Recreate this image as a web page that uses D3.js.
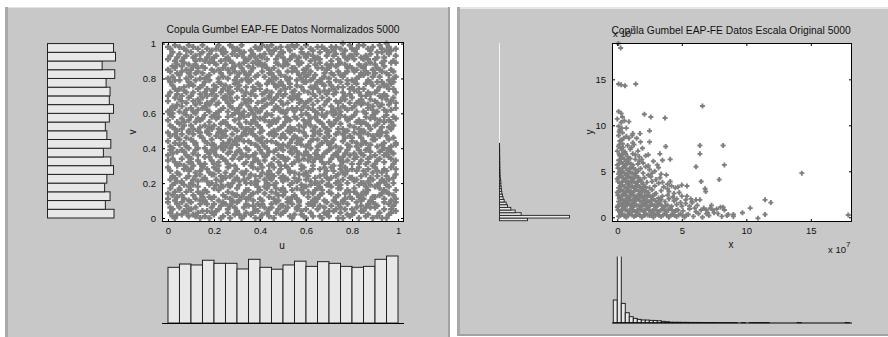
<!DOCTYPE html>
<html><head><meta charset="utf-8">
<script src="https://cdn.jsdelivr.net/npm/d3@7"></script>
<style>
body{margin:0;background:#fff}
svg{display:block}
text{font-family:"Liberation Sans",Arial,Helvetica,sans-serif;fill:#111}
</style>
</head><body>
<svg id="c" width="888" height="337"></svg>
<script>
// ---------------- DATA ----------------
const normTitle = "Copula Gumbel EAP-FE Datos Normalizados 5000";
const origTitle = "Copula Gumbel EAP-FE Datos Escala Original 5000";
const normTicks = [0, 0.2, 0.4, 0.6, 0.8, 1];
const origTicks = [0, 5, 10, 15];
const normXLabel = "u", normYLabel = "v";
const origXLabel = "x", origYLabel = "y";
const expBase = "x 10", expPow = "7";

// marginal histogram of u (20 bins of 0.05), counts
const uHistCounts = [236,250,246,266,253,253,229,270,236,228,246,262,240,260,253,240,236,240,270,284];
// marginal histogram of v (20 bins of 0.05, from v=0 upward), counts
const vHistCounts = [269,234,253,231,240,267,256,226,256,240,234,250,267,250,253,237,272,221,275,267];
const normBinWidth = 0.05;

// histogram of x (original scale, units of 1e7)
const xBinStart = -0.31, xBinWidth = 0.31;
const xHistCounts = [275,3950,234,121,73,52,40,33,32,28,27,24,16,12,6,5,5,4,4,3,3,3,2,2,2,2,1,1,1,1,1,0,1,0,1,1,1,1,1,0,0,0,0,0,0,0,1,0,0,0,0,0,0,0,0,0,0,0,1,0];
// histogram of y (original scale, units of 1e7)
const yBinStart = -0.37, yBinWidth = 0.29;
const yHistCounts = [336,840,260,188,136,96,80,56,44,36,28,24,20,16,16,12,8,6,6,5,4,4,3,3,2,2,2,1,1];

// normalized sample (u, v) in hundredths
const normPoints = [
[1,3],[8,7],[12,1],[16,9],[21,4],[27,0],[33,6],[36,2],[41,8],[48,5],[50,3],[57,9],[63,1],[66,7],[72,4],[78,8],[80,2],[86,6],[93,0],[97,5],
[4,8],[6,2],[10,5],[18,0],[23,7],[26,3],[30,9],[39,4],[44,1],[45,6],[54,8],[55,2],[60,5],[69,9],[70,1],[75,3],[84,7],[89,0],[90,6],[99,4],
[2,5],[9,1],[14,8],[15,4],[20,2],[29,6],[32,0],[37,7],[43,3],[47,9],[52,6],[59,1],[61,8],[68,3],[73,5],[76,0],[82,9],[85,4],[91,7],[96,2],
[0,9],[7,4],[11,2],[19,6],[24,1],[25,8],[34,3],[38,5],[40,0],[49,7],[51,4],[58,2],[64,9],[65,5],[74,8],[79,1],[81,3],[88,6],[94,9],[95,0],
[3,0],[5,6],[13,3],[17,8],[22,5],[28,9],[31,2],[35,7],[42,6],[46,0],[53,1],[56,6],[62,3],[67,0],[71,7],[77,5],[83,0],[87,8],[92,3],[98,7],
[1,6],[8,3],[10,9],[16,1],[20,8],[26,5],[30,4],[38,0],[41,2],[45,8],[50,7],[58,4],[60,0],[69,2],[73,9],[75,6],[84,4],[86,1],[94,5],[96,8],
[4,2],[6,9],[12,6],[19,3],[23,0],[27,7],[33,1],[39,8],[44,5],[47,3],[54,0],[56,5],[63,7],[66,1],[70,4],[78,2],[82,6],[89,9],[91,1],[99,9],
[2,1],[9,5],[14,0],[17,4],[24,9],[29,2],[34,8],[37,3],[40,7],[49,2],[52,9],[57,7],[62,8],[68,6],[74,0],[76,9],[80,5],[87,2],[90,8],[97,3],
[0,14],[7,11],[13,18],[15,12],[22,16],[28,10],[31,19],[36,13],[43,17],[46,11],[51,15],[59,18],[61,12],[67,16],[72,10],[77,14],[83,19],[85,11],[92,17],[98,13],
[3,10],[5,17],[11,13],[18,19],[20,12],[26,15],[34,11],[39,18],[42,14],[48,10],[53,19],[55,13],[64,16],[65,11],[71,18],[79,12],[81,15],[88,10],[93,14],[95,19],
[2,19],[8,15],[14,10],[16,16],[24,13],[27,18],[32,12],[35,16],[40,11],[47,14],[50,17],[57,10],[63,14],[69,19],[74,13],[75,17],[80,11],[86,18],[90,12],[99,16],
[4,12],[9,18],[10,16],[19,11],[21,19],[29,13],[30,17],[37,10],[44,19],[45,15],[54,12],[58,16],[60,18],[66,13],[70,15],[76,10],[84,13],[87,16],[94,11],[96,18],
[1,17],[6,13],[12,11],[17,15],[23,18],[25,12],[33,14],[38,19],[41,10],[49,16],[52,11],[56,17],[62,19],[68,10],[73,12],[78,16],[82,14],[89,12],[91,19],[97,10],
[3,15],[9,10],[11,19],[15,14],[20,17],[28,14],[31,10],[39,15],[40,16],[46,19],[50,13],[59,14],[64,11],[66,18],[71,14],[75,19],[81,17],[85,15],[94,16],[99,11],
[0,11],[5,16],[14,14],[18,12],[22,10],[26,19],[30,13],[35,11],[44,12],[47,17],[54,16],[56,11],[61,15],[65,17],[74,17],[77,11],[84,10],[88,19],[92,13],[95,15],
[2,13],[7,19],[13,15],[16,10],[24,18],[27,11],[34,16],[37,14],[42,18],[48,13],[53,10],[58,19],[63,10],[67,14],[70,19],[79,15],[83,12],[86,14],[90,18],[96,14],
[1,22],[9,27],[10,20],[19,25],[21,28],[25,23],[32,26],[38,21],[41,29],[46,24],[53,27],[57,22],[60,26],[68,29],[73,20],[77,25],[80,28],[87,21],[93,26],[98,23],
[4,26],[6,20],[12,24],[15,29],[23,21],[29,27],[33,22],[36,25],[43,20],[49,28],[51,23],[55,26],[62,21],[66,24],[71,29],[76,22],[82,27],[85,20],[91,24],[97,29],
[0,29],[8,23],[14,27],[17,21],[20,25],[26,29],[34,20],[39,28],[40,24],[45,22],[52,29],[59,25],[64,23],[69,27],[70,22],[78,20],[84,24],[89,26],[94,21],[95,27],
[3,20],[5,25],[11,22],[18,26],[24,23],[28,20],[30,28],[35,23],[44,27],[47,20],[50,24],[56,21],[63,28],[65,20],[74,25],[75,28],[81,21],[88,23],[90,29],[99,25],
[2,24],[7,28],[13,21],[16,23],[22,27],[27,24],[31,21],[37,29],[42,22],[48,26],[54,20],[58,28],[61,24],[67,21],[72,27],[79,23],[83,29],[86,25],[92,20],[96,22],
[4,21],[9,24],[10,28],[19,20],[20,29],[25,26],[33,25],[38,24],[41,26],[46,29],[50,21],[57,25],[60,22],[68,25],[71,23],[78,27],[80,23],[87,28],[94,28],[98,20],
[1,27],[6,21],[14,25],[15,22],[23,24],[29,22],[30,23],[36,20],[43,25],[49,23],[53,26],[55,23],[62,27],[66,28],[73,24],[76,26],[84,20],[89,22],[91,27],[95,24],
[3,23],[8,29],[12,26],[17,28],[21,22],[28,25],[34,27],[39,21],[44,23],[45,25],[52,22],[59,29],[64,20],[69,23],[74,21],[77,29],[82,22],[85,27],[93,22],[99,28],
[0,33],[7,38],[11,30],[16,35],[22,32],[26,37],[31,34],[35,39],[40,31],[48,36],[51,33],[56,38],[63,30],[67,35],[70,39],[76,32],[81,37],[86,31],[90,36],[97,34],
[2,37],[5,31],[13,36],[19,33],[24,39],[27,30],[32,35],[37,32],[44,38],[46,34],[54,31],[57,37],[61,33],[65,39],[72,30],[79,36],[84,33],[88,38],[94,32],[96,39],
[4,30],[9,35],[10,34],[17,38],[20,31],[29,36],[34,32],[38,37],[42,33],[49,30],[53,38],[59,34],[64,37],[68,31],[74,35],[75,30],[83,39],[87,34],[92,38],[98,31],
[1,39],[6,34],[14,31],[18,37],[23,35],[25,33],[30,38],[36,30],[43,36],[47,39],[50,35],[55,32],[60,38],[66,34],[73,37],[78,33],[80,31],[85,36],[91,33],[95,37],
[3,32],[8,36],[12,39],[15,30],[21,36],[28,34],[33,31],[39,33],[41,37],[45,31],[52,34],[58,30],[62,35],[69,38],[71,34],[77,37],[82,35],[89,30],[93,39],[99,33],
[0,36],[6,39],[11,37],[16,31],[24,34],[26,31],[31,39],[37,36],[40,39],[48,32],[54,37],[56,35],[63,32],[65,36],[70,32],[78,39],[84,37],[86,39],[90,31],[96,35],
[2,34],[9,32],[13,33],[18,35],[20,38],[29,30],[32,37],[35,35],[44,30],[49,35],[51,30],[57,33],[61,36],[67,32],[74,38],[76,35],[81,34],[87,32],[94,36],[97,38],
[4,38],[7,30],[10,32],[19,39],[22,30],[27,38],[34,36],[38,34],[42,35],[46,38],[50,39],[59,36],[64,34],[68,37],[72,36],[75,33],[83,31],[88,35],[92,34],[98,37],
[1,41],[8,46],[12,43],[17,49],[21,40],[27,45],[30,42],[38,47],[43,44],[45,49],[52,41],[56,46],[62,40],[66,48],[71,43],[79,47],[80,44],[85,49],[93,42],[96,45],
[3,48],[5,42],[14,47],[16,44],[23,46],[25,41],[33,49],[36,43],[41,46],[49,40],[54,45],[58,42],[60,47],[69,44],[73,41],[77,49],[84,46],[87,40],[91,48],[99,43],
[0,44],[9,40],[11,48],[19,42],[24,43],[28,48],[31,45],[39,41],[40,49],[47,43],[50,48],[55,40],[63,45],[65,41],[70,47],[76,44],[82,41],[89,47],[94,40],[95,49],
[4,46],[6,48],[13,40],[15,46],[20,42],[29,44],[34,40],[37,48],[42,41],[46,47],[53,43],[59,49],[61,42],[68,46],[74,49],[78,42],[83,48],[86,43],[90,45],[97,41],
[2,40],[7,43],[10,45],[18,48],[22,49],[26,43],[32,47],[35,44],[44,48],[48,42],[51,46],[57,44],[64,49],[67,43],[72,45],[75,40],[81,49],[88,42],[92,47],[98,46],
[1,47],[9,49],[12,42],[16,40],[21,47],[28,42],[30,46],[36,49],[43,40],[45,44],[53,49],[55,47],[60,41],[66,42],[73,48],[79,41],[80,46],[85,44],[94,43],[96,40],
[3,43],[5,45],[14,49],[17,43],[23,41],[25,47],[33,44],[38,42],[41,43],[49,46],[50,42],[58,45],[62,44],[69,49],[71,40],[77,46],[84,42],[87,48],[91,41],[95,47],
[0,49],[8,41],[11,44],[19,45],[24,48],[27,40],[34,48],[39,45],[40,45],[47,48],[54,40],[56,43],[63,47],[65,45],[70,42],[76,48],[82,43],[89,45],[93,49],[99,42],
[2,52],[6,57],[13,50],[18,55],[20,59],[26,53],[31,57],[37,51],[42,56],[46,50],[51,58],[57,53],[61,59],[67,54],[74,51],[78,56],[81,52],[86,58],[92,50],[97,55],
[4,55],[9,50],[10,58],[16,53],[22,51],[29,56],[32,52],[35,59],[44,53],[48,57],[52,50],[59,56],[64,52],[68,58],[70,55],[75,59],[83,56],[88,51],[90,57],[98,53],
[1,59],[7,53],[12,55],[19,58],[23,54],[25,50],[34,55],[38,58],[40,52],[45,54],[53,56],[55,51],[62,57],[66,50],[72,59],[79,53],[84,50],[85,55],[94,58],[96,52],
[3,51],[5,54],[14,52],[17,50],[21,57],[28,59],[30,50],[36,54],[43,59],[49,52],[50,53],[58,59],[60,54],[69,51],[73,56],[76,51],[80,58],[87,53],[91,54],[99,57],
[0,56],[8,59],[11,51],[15,57],[24,55],[27,52],[33,58],[39,53],[41,50],[47,55],[54,51],[56,57],[63,50],[65,56],[71,53],[77,58],[82,55],[89,59],[93,52],[95,59],
[2,58],[6,51],[13,57],[18,52],[20,53],[26,58],[31,54],[35,51],[42,58],[46,56],[51,55],[57,50],[61,55],[67,59],[74,57],[75,54],[83,51],[86,54],[92,56],[97,51],
[4,50],[9,56],[10,53],[16,59],[22,58],[29,51],[32,59],[37,56],[44,55],[48,51],[52,57],[59,52],[64,58],[68,52],[70,50],[78,50],[81,59],[88,57],[90,53],[98,58],
[1,53],[7,55],[14,56],[19,51],[23,50],[25,55],[34,51],[38,55],[40,57],[45,59],[53,52],[55,58],[62,53],[66,55],[72,54],[79,57],[84,54],[85,50],[94,55],[96,56],
[3,63],[5,68],[11,61],[17,66],[21,60],[27,64],[30,69],[36,62],[41,67],[49,61],[50,65],[56,69],[63,62],[65,67],[73,60],[76,64],[80,69],[87,63],[91,66],[95,61],
[0,67],[8,62],[12,65],[15,69],[24,63],[28,67],[33,61],[39,66],[43,60],[47,64],[54,68],[58,62],[60,66],[69,60],[71,64],[77,68],[82,61],[85,66],[93,69],[99,63],
[2,60],[6,64],[13,68],[18,61],[22,66],[26,61],[31,63],[35,68],[42,64],[46,68],[52,62],[57,66],[61,63],[67,69],[74,66],[75,61],[84,65],[89,62],[90,60],[97,67],
[4,65],[9,69],[10,63],[16,64],[20,68],[29,60],[34,66],[37,60],[44,69],[48,63],[51,60],[59,64],[64,61],[68,65],[70,68],[78,62],[83,67],[86,60],[92,64],[98,69],
[1,62],[7,60],[14,66],[19,67],[23,62],[25,68],[32,65],[38,63],[40,61],[45,66],[53,69],[55,61],[62,68],[66,63],[72,62],[79,66],[81,64],[88,68],[94,62],[96,65],
[3,69],[5,61],[11,67],[17,62],[21,65],[27,69],[30,62],[36,67],[43,65],[49,67],[50,61],[56,63],[63,65],[65,60],[73,67],[76,69],[80,63],[87,65],[91,61],[95,68],
[0,61],[8,66],[12,60],[15,63],[24,69],[28,63],[33,68],[39,61],[41,63],[47,69],[54,63],[58,67],[60,60],[69,67],[71,61],[77,63],[82,66],[85,61],[93,65],[99,66],
[2,64],[6,67],[13,62],[18,65],[22,61],[26,66],[31,60],[35,64],[42,68],[46,62],[52,66],[57,68],[61,67],[67,62],[74,63],[75,67],[84,68],[89,64],[90,67],[97,62],
[4,71],[9,76],[10,70],[16,78],[20,73],[29,77],[34,72],[37,75],[44,79],[48,71],[51,74],[59,78],[64,70],[68,76],[70,73],[78,79],[83,72],[86,77],[92,70],[98,74],
[1,78],[7,73],[14,75],[19,71],[23,77],[25,70],[32,79],[38,74],[40,76],[45,72],[53,77],[55,70],[62,75],[66,79],[72,71],[79,74],[81,78],[88,71],[94,76],[96,79],
[3,74],[5,79],[11,72],[17,74],[21,70],[27,75],[30,78],[36,71],[43,73],[49,78],[50,70],[56,76],[63,71],[65,74],[73,79],[76,72],[80,75],[87,79],[91,73],[95,70],
[0,70],[8,72],[12,79],[15,76],[24,74],[28,72],[33,70],[39,77],[41,71],[47,75],[54,72],[58,75],[60,78],[69,71],[71,76],[77,70],[82,77],[85,74],[93,78],[99,72],
[2,76],[6,70],[13,74],[18,79],[22,78],[26,73],[31,76],[35,78],[42,72],[46,77],[52,79],[57,71],[61,72],[67,77],[74,75],[75,78],[84,70],[89,76],[90,72],[97,77],
[4,73],[9,78],[10,77],[16,72],[20,76],[29,79],[34,75],[37,73],[44,70],[48,76],[51,71],[59,73],[64,76],[68,73],[70,78],[78,77],[83,74],[86,70],[92,75],[98,78],
[1,72],[7,75],[14,71],[19,73],[23,72],[25,76],[32,73],[38,70],[40,74],[45,79],[53,75],[55,73],[62,79],[66,72],[72,74],[79,71],[81,73],[88,78],[94,71],[96,74],
[3,79],[5,74],[11,76],[17,70],[21,75],[27,71],[30,74],[36,79],[43,77],[49,73],[50,76],[56,79],[63,74],[65,78],[73,72],[76,75],[80,79],[87,72],[91,78],[95,76],
[0,85],[8,80],[12,88],[15,83],[24,81],[28,86],[33,89],[39,82],[41,87],[47,80],[54,84],[58,89],[60,81],[69,85],[71,88],[77,83],[82,80],[85,86],[93,84],[99,89],
[2,81],[6,87],[13,84],[18,89],[22,85],[26,80],[31,83],[35,87],[42,81],[46,86],[52,88],[57,82],[61,87],[67,80],[74,84],[75,89],[84,83],[89,81],[90,88],[97,85],
[4,88],[9,83],[10,81],[16,86],[20,89],[29,84],[34,80],[37,86],[44,83],[48,88],[51,81],[59,85],[64,88],[68,83],[70,80],[78,86],[83,88],[86,84],[92,81],[98,80],
[1,84],[7,89],[14,80],[19,85],[23,83],[25,88],[32,86],[38,81],[40,89],[45,83],[53,80],[55,86],[62,84],[66,89],[72,82],[79,87],[81,84],[88,89],[94,87],[96,82],
[3,86],[5,82],[11,87],[17,81],[21,88],[27,83],[30,81],[36,84],[43,86],[49,82],[50,87],[56,84],[63,80],[65,86],[73,87],[76,81],[80,86],[87,83],[91,86],[95,83],
[0,80],[8,85],[12,83],[15,87],[24,86],[28,89],[33,84],[39,88],[41,84],[47,89],[54,86],[58,80],[60,85],[69,88],[71,83],[77,88],[82,85],[85,82],[93,89],[99,81],
[2,87],[6,84],[13,86],[18,82],[22,80],[26,85],[31,88],[35,82],[42,88],[46,81],[52,84],[57,88],[61,82],[67,86],[74,88],[75,82],[84,87],[89,85],[90,83],[97,89],
[4,83],[9,88],[10,85],[16,80],[20,84],[29,87],[34,82],[37,89],[44,85],[48,84],[51,89],[59,83],[64,82],[68,81],[70,86],[78,84],[83,81],[86,88],[92,85],[98,84],
[1,93],[7,97],[14,91],[19,96],[23,90],[25,95],[32,99],[38,92],[40,97],[45,94],[53,91],[55,98],[62,90],[66,95],[72,93],[79,99],[81,91],[88,96],[94,92],[96,98],
[3,99],[5,94],[11,98],[17,92],[21,97],[27,90],[30,93],[36,96],[43,91],[49,98],[50,95],[56,90],[63,96],[65,92],[73,98],[76,94],[80,97],[87,91],[91,95],[95,100],
[0,91],[8,96],[12,93],[15,99],[24,94],[28,98],[33,92],[39,97],[41,99],[47,91],[54,93],[58,97],[60,99],[69,93],[71,90],[77,96],[82,94],[85,99],[93,97],[99,93],
[2,95],[6,90],[13,97],[18,94],[22,99],[26,92],[31,96],[35,91],[42,94],[46,96],[52,98],[57,92],[61,94],[67,98],[74,91],[75,97],[84,92],[89,98],[90,91],[97,96],
[4,92],[9,99],[10,95],[16,90],[20,92],[29,96],[34,90],[37,94],[44,96],[48,93],[51,90],[59,94],[64,91],[68,97],[70,95],[78,91],[83,99],[86,93],[92,99],[98,90],
[1,97],[7,92],[14,94],[19,91],[23,96],[25,91],[32,94],[38,98],[40,93],[45,99],[53,96],[55,93],[62,97],[66,91],[72,96],[79,93],[81,96],[88,94],[94,90],[96,94],
[3,90],[5,98],[11,92],[17,97],[21,93],[27,99],[30,97],[36,93],[43,98],[49,95],[50,92],[56,99],[63,93],[65,98],[73,94],[76,100],[80,93],[87,97],[91,92],[95,96],
[0,98],[8,93],[12,90],[15,95],[24,97],[28,94],[33,95],[39,90],[41,92],[47,97],[54,99],[58,95],[60,92],[69,96],[71,98],[77,92],[82,97],[85,91],[93,95],[99,97]
];

// original-scale sample (x, y) in units of 1e7
const origPoints = [
[0.1,0.1],[0.4,0.3],[0.7,0.0],[1.0,0.4],[1.3,0.1],[1.6,0.3],[1.9,0.0],[2.2,0.4],[2.5,0.2],[2.8,0.0],[3.1,0.3],[3.4,0.1],[3.7,0.4],[4.0,0.0],[4.3,0.3],[4.6,0.1],[4.9,0.4],[5.2,0.0],[5.5,0.3],[5.9,0.1],[6.3,0.4],[6.6,0.0],[7.1,0.2],[7.5,0.5],[8.1,0.1],[8.6,0.3],
[0.2,0.6],[0.5,0.9],[0.8,0.7],[1.1,1.0],[1.4,0.6],[1.7,0.9],[2.0,0.7],[2.3,1.0],[2.6,0.6],[2.9,0.8],[3.2,0.6],[3.5,0.9],[3.8,0.7],[4.1,1.0],[4.4,0.6],[4.7,0.8],[5.1,0.7],[5.6,0.9],[6.1,0.6],[6.9,0.8],[7.7,0.9],
[0.0,1.1],[0.3,1.4],[0.6,1.2],[0.9,1.5],[1.2,1.1],[1.5,1.3],[1.8,1.2],[2.1,1.5],[2.4,1.1],[2.7,1.4],[3.0,1.2],[3.3,1.5],[3.6,1.1],[3.9,1.3],[4.2,1.2],[4.6,1.4],[5.0,1.2],[5.3,1.5],[6.2,1.3],
[0.1,1.7],[0.4,2.0],[0.7,1.6],[1.0,1.9],[1.3,1.7],[1.6,2.0],[1.9,1.6],[2.2,1.8],[2.5,1.7],[2.8,2.0],[3.1,1.6],[3.4,1.9],[3.7,1.7],[4.0,2.0],[4.4,1.8],[4.9,1.6],
[0.2,2.2],[0.5,2.5],[0.8,2.1],[1.1,2.4],[1.4,2.2],[1.7,2.5],[2.0,2.1],[2.3,2.3],[2.6,2.2],[2.9,2.5],[3.2,2.1],[3.5,2.3],[3.9,2.4],[4.3,2.2],
[0.0,2.7],[0.3,3.0],[0.6,2.6],[0.9,2.9],[1.2,2.7],[1.5,3.0],[1.8,2.6],[2.1,2.8],[2.4,2.7],[2.7,3.0],[3.0,2.6],[3.4,2.9],[4.0,2.8],
[0.1,3.2],[0.4,3.5],[0.7,3.1],[1.0,3.4],[1.3,3.2],[1.6,3.5],[1.9,3.1],[2.2,3.3],[2.5,3.2],[2.9,3.4],[3.6,3.3],
[0.2,3.7],[0.5,4.0],[0.8,3.6],[1.1,3.9],[1.4,3.7],[1.7,4.0],[2.0,3.6],[2.3,3.8],[2.7,3.9],[3.2,3.7],
[0.0,4.2],[0.3,4.5],[0.6,4.1],[0.9,4.4],[1.2,4.2],[1.5,4.5],[1.8,4.1],[2.1,4.3],[2.6,4.4],
[0.1,4.7],[0.4,5.0],[0.7,4.6],[1.0,4.9],[1.3,4.7],[1.6,5.0],[2.0,4.8],[2.4,4.6],
[0.2,5.2],[0.5,5.5],[0.8,5.1],[1.1,5.4],[1.4,5.2],[1.8,5.3],
[0.0,5.7],[0.3,6.0],[0.6,5.6],[0.9,5.9],[1.2,5.7],[1.6,5.8],
[0.1,6.2],[0.4,6.5],[0.7,6.1],[1.0,6.4],[1.4,6.3],
[0.2,6.7],[0.5,7.0],[0.8,6.6],[1.2,6.9],
[0.0,7.2],[0.3,7.5],[0.6,7.1],[1.0,7.4],
[0.1,7.7],[0.4,8.0],[0.8,7.8],
[0.2,8.3],[0.5,8.6],[0.1,8.9],[0.4,9.2],
[0.2,9.5],[0.1,9.9],[0.3,10.3],[0.0,10.7],[0.4,10.9],
[0.25,0.45],[0.55,0.15],[0.85,0.35],[1.15,0.75],[0.35,0.85],[0.05,1.25],[0.45,1.55],[0.75,1.85],[1.25,1.45],[0.15,2.05],[0.65,2.35],[1.05,2.65],[0.25,2.85],[0.55,3.35],[0.85,3.85],[0.15,4.35],[0.35,4.85],[0.05,5.35],[0.45,5.85],[0.25,6.35],[0.15,6.85],[0.35,7.35],[1.55,0.55],[1.85,0.85],[2.15,0.25],[2.45,0.85],[2.75,0.45],[1.35,2.05],[1.75,2.35],[2.05,1.35],[2.35,1.65],
[0.25,0.2],[0.55,0.25],[0.85,0.2],[1.15,0.25],[1.45,0.2],[1.75,0.25],[2.05,0.2],[2.35,0.25],[2.65,0.2],[2.95,0.25],[3.25,0.2],[3.55,0.25],[3.85,0.2],[4.15,0.25],[4.45,0.2],[4.75,0.25],[5.05,0.2],[5.35,0.25],
[0.05,0.8],[0.35,0.75],[0.65,0.8],[0.95,0.75],[1.25,0.8],[1.55,0.75],[1.85,0.8],[2.15,0.75],[2.45,0.8],[2.75,0.75],[3.05,0.8],[3.35,0.75],[3.65,0.8],[3.95,0.75],[4.25,0.8],[4.55,0.75],
[0.15,1.3],[0.45,1.25],[0.75,1.3],[1.05,1.25],[1.35,1.3],[1.65,1.25],[1.95,1.3],[2.25,1.25],[2.55,1.3],[2.85,1.25],[3.15,1.3],[3.45,1.25],[3.75,1.3],
[0.25,1.85],[0.55,1.8],[0.85,1.85],[1.15,1.8],[1.45,1.85],[1.75,1.8],[2.05,1.85],[2.35,1.8],[2.65,1.85],[2.95,1.8],[3.25,1.85],
[0.05,2.4],[0.35,2.35],[0.65,2.4],[0.95,2.35],[1.25,2.4],[1.55,2.35],[1.85,2.4],[2.15,2.35],[2.45,2.4],[2.75,2.35],
[0.15,2.9],[0.45,2.85],[0.75,2.9],[1.05,2.85],[1.35,2.9],[1.65,2.85],[1.95,2.9],[2.25,2.85],
[0.25,3.4],[0.85,3.3],[1.15,3.35],[1.45,3.4],[1.75,3.3],[2.05,3.35],
[0.05,3.9],[0.35,3.85],[0.65,3.9],[0.95,3.8],[1.25,3.9],[1.55,3.85],[1.85,3.9],
[0.45,4.3],[0.75,4.35],[1.05,4.3],[1.35,4.35],[1.65,4.3],
[0.15,4.9],[0.55,4.8],[0.85,4.85],[1.15,4.8],[1.45,4.85],
[0.35,5.3],[0.65,5.35],[0.95,5.3],[1.25,5.35],
[0.15,5.8],[0.75,5.85],[1.05,5.8],[0.55,6.3],[0.85,6.35],[0.35,6.8],[0.65,6.9],
[0.15,7.9],[0.45,7.6],[0.3,8.4],[0.15,9.3],[0.35,9.7],
[5.8,1.6],[6.1,1.9],[5.4,2.3],[4.8,2.7],[4.5,3.2],[5.0,3.5],[3.9,3.6],[3.3,4.3],[3.8,4.6],[2.9,5.0],[3.2,5.4],[2.4,5.6],[2.8,6.1],[1.9,6.3],[2.2,6.7],[1.6,7.2],[1.3,7.9],[1.8,8.2],[0.9,8.6],[1.2,9.1],[0.7,9.7],[0.9,10.4],[6.7,1.0],[7.3,1.3],[7.0,0.5],[8.3,0.8],[8.5,0.2],[9.0,0.3],[8.0,1.1],
[4.6,2.0],[5.0,2.3],[5.3,1.9],[4.4,2.6],[3.9,3.1],[4.2,3.4],[3.5,3.8],[3.0,4.1],[3.4,4.7],[2.7,4.8],[2.5,5.2],[2.2,5.5],[2.0,5.9],[1.7,6.1],[1.4,6.8],[1.1,7.6],[5.6,1.2],[6.0,1.0],[6.5,0.8],[5.7,2.0],[7.2,1.0],[7.8,0.4],
[0.08,18.9],[0.26,18.4],[0.1,14.5],[0.3,14.4],[0.6,14.3],[1.43,14.5],[6.6,12.1],[2.1,11.2],[2.6,10.9],[3.7,10.8],[0.1,11.5],[0.3,11.3],[0.55,10.5],[2.5,9.4],[2.5,8.2],[1.15,8.9],[0.7,8.8],[1.95,7.5],[3.75,7.7],[6.4,7.8],[8.2,7.8],[6.4,6.9],[3.3,6.9],[4.1,6.3],[3.5,6.2],[3.1,5.7],[2.4,6.8],[1.7,6.6],[6.1,5.5],[8.3,5.7],[6.5,3.9],[7.9,4.1],[14.3,4.8],[4.1,3.9],[4.7,3.3],[5.4,3.4],[6.8,3.1],[6.85,2.8],[5.8,1.7],[6.4,1.9],[10.3,1.0],[9.7,0.5],[10.9,-0.1],[11.45,1.9],[11.9,1.6],[11.45,0.3],[17.9,0.25],[9.0,0.1],[8.2,1.1],[7.4,0.8],[6.9,0.4],[1.76,9.1],[1.5,8.6],[1.2,8.1]
];

// ---------------- DRAWING ----------------
const svg = d3.select("#c");
const FONT = "'Liberation Sans', Arial, Helvetica, sans-serif";
const PANEL = "#c8c8c8", BARFILL = "#e8e8e8", PTCOL = "#7f7f7f";

function box(x, y, w, h, fill) {
  svg.append("rect").attr("x", x).attr("y", y).attr("width", w).attr("height", h).attr("fill", fill);
}
// figure background / panels
box(5, 7, 443, 330, PANEL);
box(5, 7, 3, 330, "#a9a9a9");
box(8, 7, 440, 1, "#e2e2e2");
box(448, 7, 2, 330, "#a2a2a2");
box(457, 7, 431, 327, PANEL);
box(457, 7, 3, 327, "#a9a9a9");
box(460, 7, 428, 2, "#e6e6e6");
box(457, 334, 431, 2, "#a2a2a2");

const markerN = "M-3,0H3M0,-3V3";
const markerO = "M-2.5,0H2.5M0,-2.5V2.5";

function drawFrame(xs, ys, xt, yt, fmt) {
  const [x0, x1] = xs.range(), [y0, y1] = ys.range();
  const g = svg.append("g");
  const style = sel => {
    sel.select(".domain").remove();
    sel.attr("font-family", FONT).attr("font-size", 9.5);
    sel.selectAll("text").attr("fill", "#111");
  };
  g.append("g").attr("transform", `translate(0,${y0})`)
    .call(d3.axisBottom(xs).tickValues(xt).tickSize(-3).tickPadding(5).tickFormat(fmt)).call(style);
  g.append("g").attr("transform", `translate(0,${y1})`)
    .call(d3.axisTop(xs).tickValues(xt).tickSize(-3).tickFormat("")).call(style);
  g.append("g").attr("transform", `translate(${x0},0)`)
    .call(d3.axisLeft(ys).tickValues(yt).tickSize(-3).tickPadding(6).tickFormat(fmt)).call(style);
  g.append("g").attr("transform", `translate(${x1},0)`)
    .call(d3.axisRight(ys).tickValues(yt).tickSize(-3).tickFormat("")).call(style);
  g.append("rect").attr("x", x0 + 0.5).attr("y", y1 + 0.5)
    .attr("width", x1 - x0 - 1).attr("height", y0 - y1 - 1)
    .attr("fill", "none").attr("stroke", "#000").attr("stroke-width", 1);
}

function title(t, x, y) {
  svg.append("text").attr("x", x).attr("y", y).attr("text-anchor", "middle")
    .attr("font-size", 10.3).text(t);
}
function label(t, x, y, rot) {
  const e = svg.append("text").attr("text-anchor", "middle").attr("font-size", 10).text(t);
  if (rot) e.attr("transform", `translate(${x},${y}) rotate(-90)`);
  else e.attr("x", x).attr("y", y);
}
function expLabel(x, y) {
  const t = svg.append("text").attr("x", x).attr("y", y).attr("font-size", 9.5).text(expBase);
  t.append("tspan").attr("dy", -6).attr("font-size", 8).text(expPow);
}

// ===== LEFT PANEL: normalized =====
const xN = d3.scaleLinear().domain([-0.026, 1.026]).range([162, 404]);
const yN = d3.scaleLinear().domain([-0.023, 1.009]).range([222, 42]);

svg.append("rect").attr("x", 162).attr("y", 42).attr("width", 242).attr("height", 180).attr("fill", "#fff");
svg.append("g").selectAll("path").data(normPoints).join("path")
  .attr("d", markerN)
  .attr("transform", d => `translate(${xN(d[0] / 100)},${yN(d[1] / 100)})`)
  .attr("stroke", PTCOL).attr("stroke-width", 2.4).attr("fill", "none");
drawFrame(xN, yN, normTicks, normTicks, d => String(d));
title(normTitle, 283, 33);
label(normXLabel, 282, 249, false);
label(normYLabel, 136, 132, true);

// bottom histogram of u
const hU = d3.scaleLinear().domain([0, d3.max(uHistCounts)]).range([323, 256]);
svg.append("g").selectAll("rect").data(uHistCounts).join("rect")
  .attr("x", (d, i) => xN(i * normBinWidth))
  .attr("width", (d, i) => xN((i + 1) * normBinWidth) - xN(i * normBinWidth))
  .attr("y", d => hU(d)).attr("height", d => hU(0) - hU(d))
  .attr("fill", BARFILL).attr("stroke", "#222").attr("stroke-width", 1);
svg.append("line").attr("x1", 162).attr("x2", 404).attr("y1", 323.5).attr("y2", 323.5).attr("stroke", "#000");

// left histogram of v (horizontal)
const hV = d3.scaleLinear().domain([0, d3.max(vHistCounts)]).range([47.5, 115.5]);
svg.append("g").selectAll("rect").data(vHistCounts).join("rect")
  .attr("x", hV(0))
  .attr("width", d => hV(d) - hV(0))
  .attr("y", (d, i) => yN((i + 1) * normBinWidth))
  .attr("height", (d, i) => yN(i * normBinWidth) - yN((i + 1) * normBinWidth))
  .attr("fill", BARFILL).attr("stroke", "#222").attr("stroke-width", 1);

// ===== RIGHT PANEL: original scale =====
const xO = d3.scaleLinear().domain([-0.41, 18.19]).range([612, 852]);
const yO = d3.scaleLinear().domain([-0.51, 18.95]).range([222, 43]);

svg.append("rect").attr("x", 612).attr("y", 43).attr("width", 240).attr("height", 179).attr("fill", "#fff");
svg.append("g").selectAll("path").data(origPoints).join("path")
  .attr("d", markerO)
  .attr("transform", d => `translate(${xO(d[0])},${yO(d[1])})`)
  .attr("stroke", PTCOL).attr("stroke-width", 1.9).attr("fill", "none");
drawFrame(xO, yO, origTicks, origTicks, d => String(d));
title(origTitle, 731, 34);
expLabel(613, 37);
expLabel(828, 253);
label(origXLabel, 731, 248, false);
label(origYLabel, 593, 132, true);

// bottom histogram of x (clipped at top like the original)
svg.append("clipPath").attr("id", "clipX").append("rect")
  .attr("x", 600).attr("y", 256.5).attr("width", 260).attr("height", 70);
const hX = d3.scaleLinear().domain([0, 800]).range([322.7, 256.7]);
svg.append("g").attr("clip-path", "url(#clipX)").selectAll("rect").data(xHistCounts).join("rect")
  .attr("x", (d, i) => xO(xBinStart + i * xBinWidth))
  .attr("width", (d, i) => xO(xBinStart + (i + 1) * xBinWidth) - xO(xBinStart + i * xBinWidth))
  .attr("y", d => hX(d)).attr("height", d => hX(0) - hX(d))
  .attr("fill", d => d > 0 ? BARFILL : "none").attr("stroke", d => d > 0 ? "#222" : "none").attr("stroke-width", 1);
svg.append("line").attr("x1", 612).attr("x2", 852).attr("y1", 323).attr("y2", 323).attr("stroke", "#000");

// left histogram of y (horizontal)
const hY = d3.scaleLinear().domain([0, 840]).range([499.5, 569.5]);
svg.append("line").attr("x1", 499.5).attr("x2", 499.5).attr("y1", 43).attr("y2", 221)
  .attr("stroke", "#f4f4f4").attr("stroke-width", 1);
svg.append("g").selectAll("rect").data(yHistCounts).join("rect")
  .attr("x", hY(0))
  .attr("width", d => hY(d) - hY(0))
  .attr("y", (d, i) => yO(yBinStart + (i + 1) * yBinWidth))
  .attr("height", (d, i) => yO(yBinStart + i * yBinWidth) - yO(yBinStart + (i + 1) * yBinWidth))
  .attr("fill", BARFILL).attr("stroke", "#222").attr("stroke-width", 0.9);
</script>
</body></html>
